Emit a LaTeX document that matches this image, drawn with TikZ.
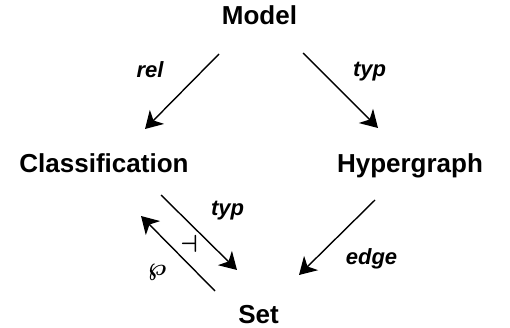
\documentclass[tikz,border=0pt]{standalone}
\usepackage{fontspec}
\setmainfont{Liberation Sans}
\usetikzlibrary{arrows.meta}
\tikzset{
  obj/.style={font=\fontsize{26}{30}\selectfont\bfseries, inner sep=0pt, anchor=base},
  lbl/.style={font=\fontsize{22}{26}\selectfont\bfseries\itshape, inner sep=0pt, anchor=base},
  sym/.style={font=\fontsize{24}{28}\selectfont\boldmath, inner sep=0pt},
  arr/.style={line width=1.4pt, -{Stealth[length=17pt, width=20pt, inset=5pt]}}
}
\begin{document}
\begin{tikzpicture}[x=1pt, y=-1pt]
  \useasboundingbox (0,0) rectangle (510,328);
  % objects
  \node[obj] (M) at (259.5,25) {Model};
  \node[obj] (C) at (104,173) {Classification};
  \node[obj] (H) at (410,173) {Hypergraph};
  \node[obj] (S) at (258.5,323) {Set};
  % morphisms
  \draw[arr] ([shift={(-40.5,29)}]M.base) -- ([shift={(41,-44)}]C.base);
  \draw[arr] ([shift={(43.5,28)}]M.base) -- ([shift={(-32,-45)}]H.base);
  \draw[arr] ([shift={(-35,27)}]H.base) -- ([shift={(40.5,-48)}]S.base);
  \draw[arr] ([shift={(57,22)}]C.base) -- ([shift={(-21.5,-53)}]S.base);
  \draw[arr] ([shift={(-43.5,-32)}]S.base) -- ([shift={(37,43)}]C.base);
  % labels
  \node[lbl] (lrel) at (150,78) {rel};
  \node[lbl] (ltyp1) at (369.5,77) {typ};
  \node[lbl] (ltyp2) at (227.5,215) {typ};
  \node[lbl] (ledge) at (371.5,264) {edge};
  \node[sym] (adj) at (189,244) {$\dashv$};
  \node[sym] (lwp) at (157,272) {$\wp$};
\end{tikzpicture}
\end{document}
